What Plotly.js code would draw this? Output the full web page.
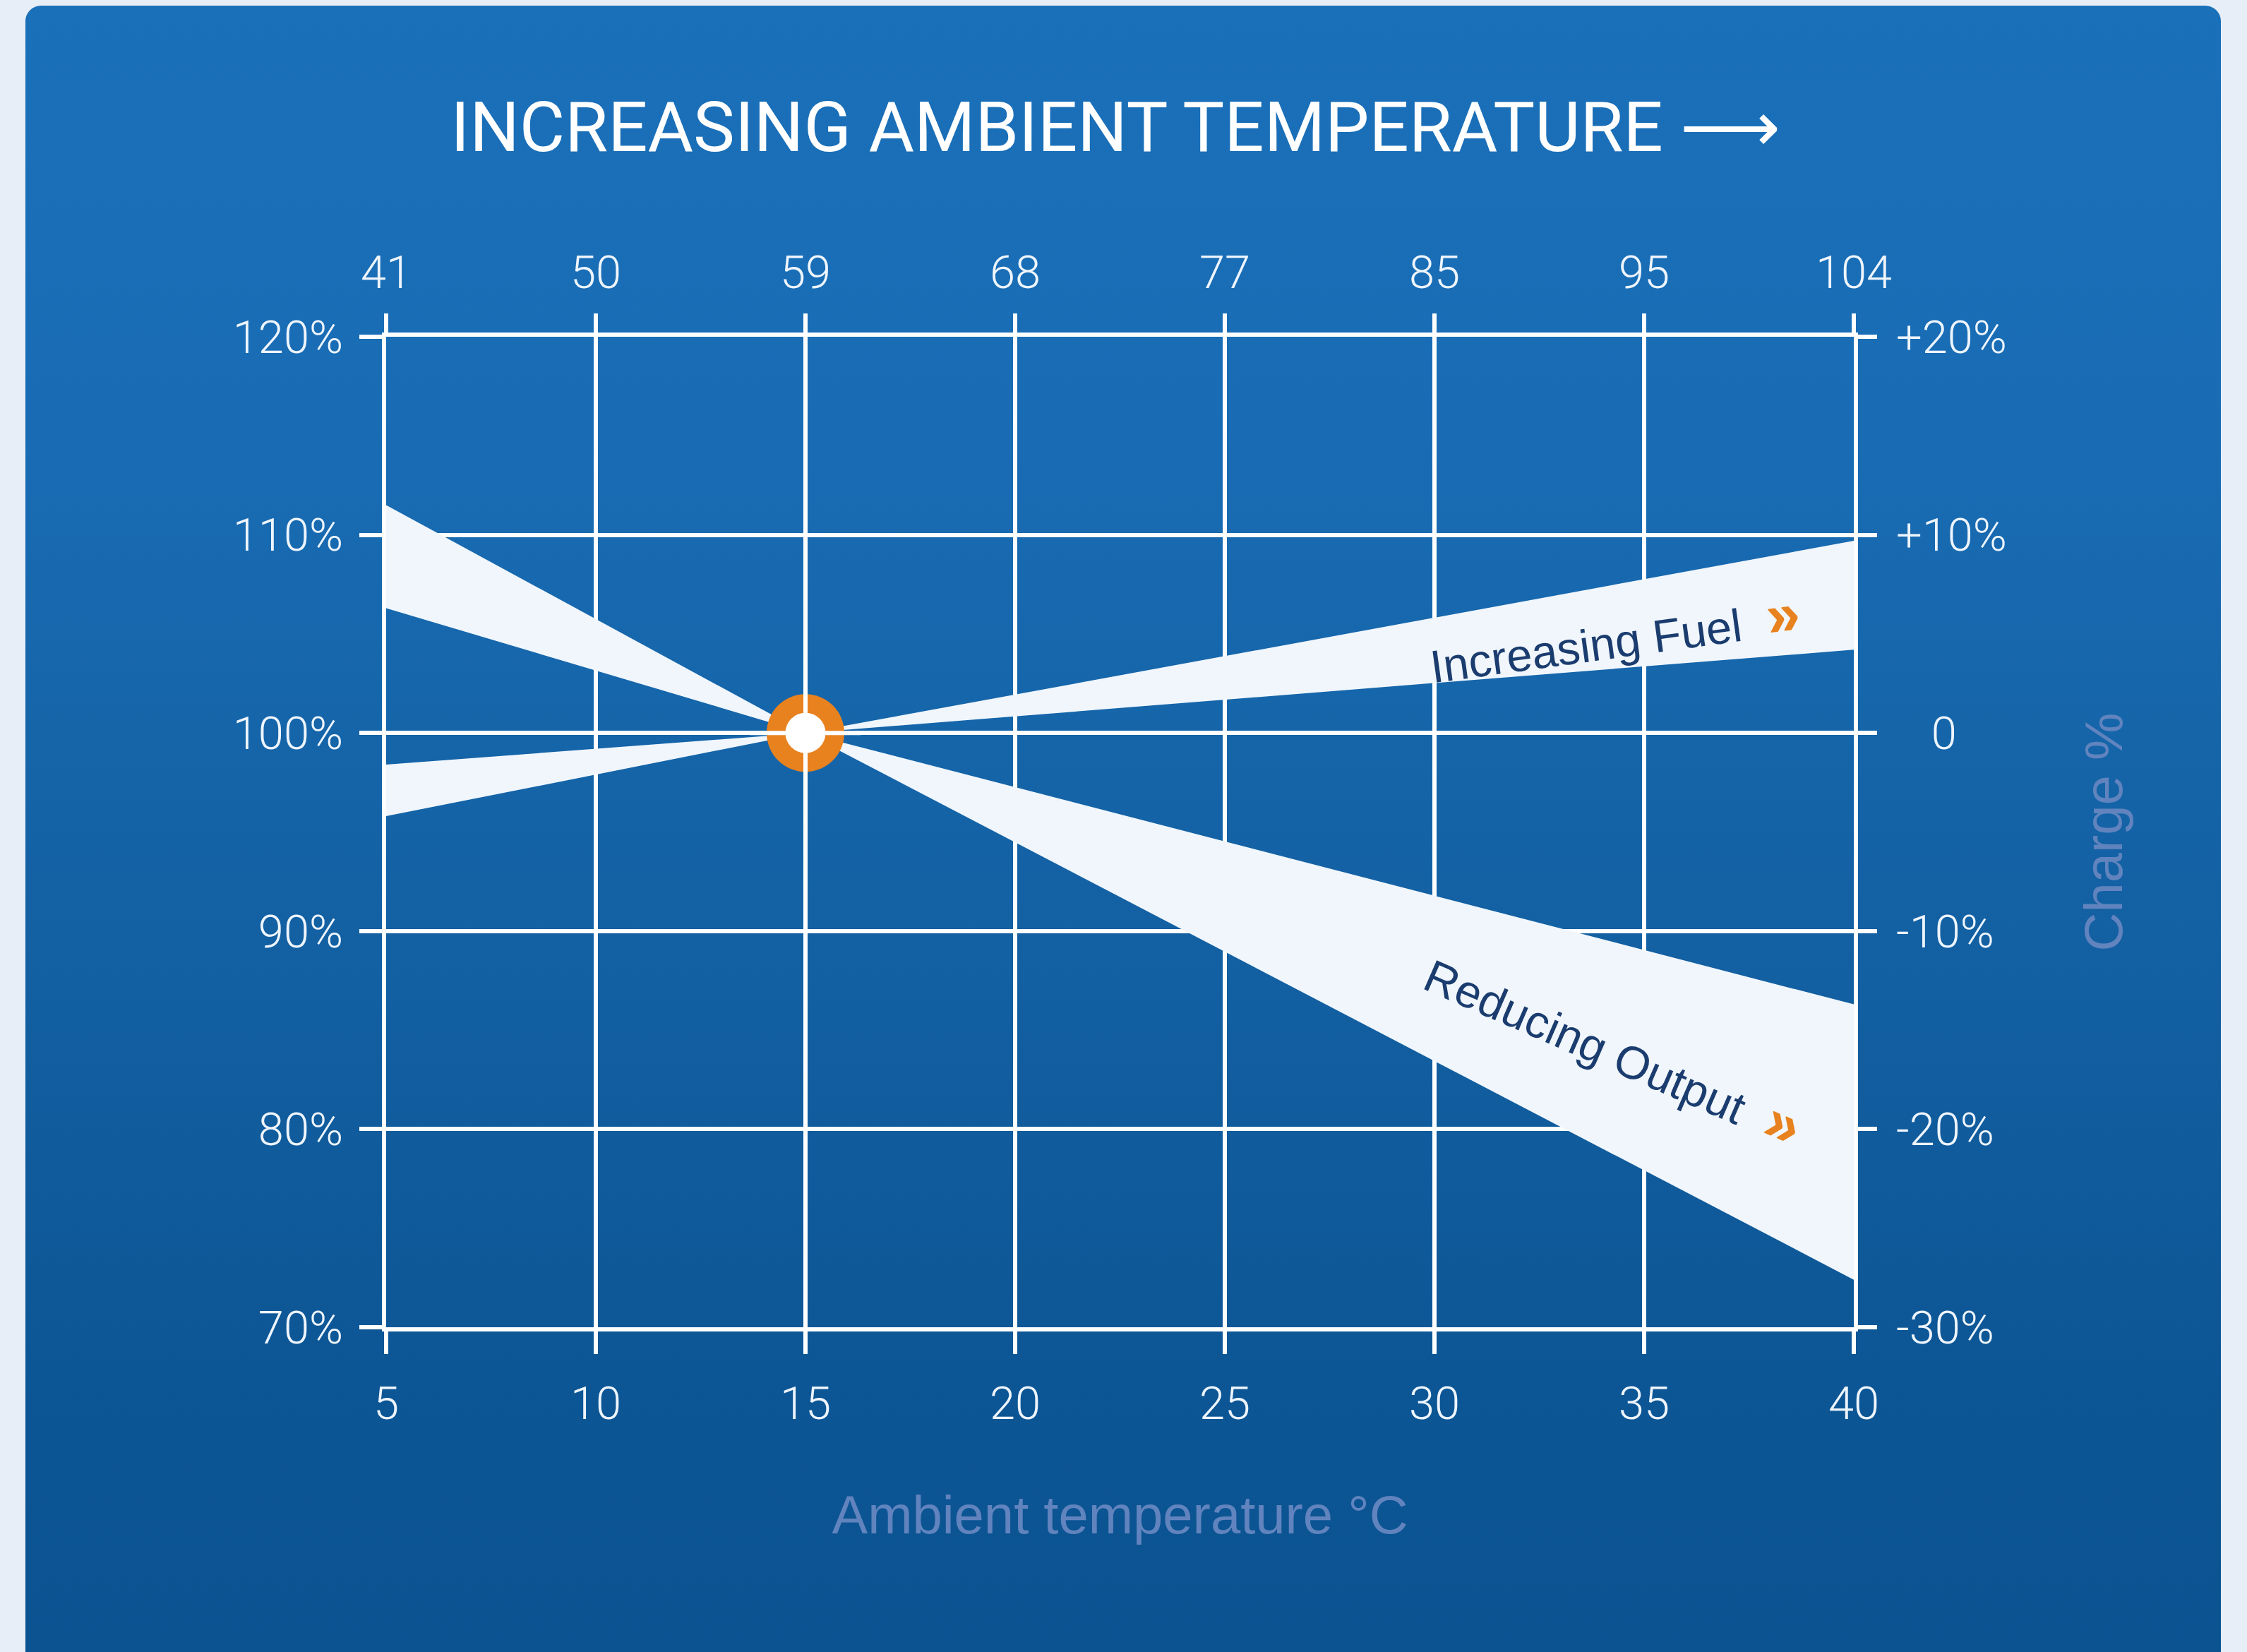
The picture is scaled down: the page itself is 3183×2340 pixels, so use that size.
<!DOCTYPE html>
<html>
<head>
<meta charset="utf-8">
<script src="https://cdn.plot.ly/plotly-3.0.1.min.js"></script>
<style>
  html, body { margin: 0; padding: 0; width: 3183px; height: 2340px; overflow: hidden; background: #e8eef7; }
  #panel { position: absolute; left: 36px; top: 8px; width: 3110px; height: 2420px; border-radius: 22px;
           background: linear-gradient(to bottom, #1a70b9 0%, #196cb4 25%, #1462a5 50%, #0d5695 80%, #0a5290 100%); }
  #chart { position: absolute; left: 0; top: 0; width: 3183px; height: 2340px; }
</style>
</head>
<body>
<div id="panel"></div>
<div id="chart"></div>
<script>
// ---- data ----
const tempC        = [5, 15, 40];                 // ambient temperature, °C
const fuelUpper    = [98.4, 100, 109.7];          // fuel band, upper edge (%)
const fuelLower    = [95.8, 100, 104.2];          // fuel band, lower edge (%)
const outputUpper  = [111.5, 100, 86.3];          // output band, upper edge (%)
const outputLower  = [106.3, 100, 72.4];          // output band, lower edge (%)
const refTemp      = [15];                        // ISO reference point
const refLevel     = [100];

const xTickVals    = [5, 10, 15, 20, 25, 30, 35, 40];
const xTickTextC   = ['5', '10', '15', '20', '25', '30', '35', '40'];
const xTickTextF   = ['41', '50', '59', '68', '77', '85', '95', '104'];
const yTickVals    = [70, 80, 90, 100, 110, 120];
const yTickTextL   = ['70%', '80%', '90%', '100%', '110%', '120%'];
const yTickTextR   = ['-30%', '-20%', '-10%', '\u2007\u20090', '+10%', '+20%'];

const labelTemp    = 34.3;   // where the band captions sit along x

// ---- helpers ----
function interp(xs, ys, x) {
  for (let i = 0; i < xs.length - 1; i++) {
    if (x >= xs[i] && x <= xs[i + 1]) {
      const t = (x - xs[i]) / (xs[i + 1] - xs[i]);
      return ys[i] + t * (ys[i + 1] - ys[i]);
    }
  }
  return ys[ys.length - 1];
}
function bandPolygon(xs, up, lo) {
  return {
    x: xs.concat(xs.slice().reverse()),
    y: up.concat(lo.slice().reverse())
  };
}

const WEDGE = '#f0f6fc';
const ORANGE = '#e8821e';
const NAVY = '#1b3c6e';
const TICKFONT = { family: 'Liberation Sans Narrow, Roboto, sans-serif', size: 65, weight: 300, color: '#eef5fc' };
const AXTITLE = { family: 'Liberation Sans, Arial, sans-serif', size: 76, color: '#6184be' };

const fuelPoly = bandPolygon(tempC, fuelUpper, fuelLower);
const outPoly = bandPolygon(tempC, outputUpper, outputLower);

const traces = [
  { type: 'scatter', mode: 'lines', x: fuelPoly.x, y: fuelPoly.y, fill: 'toself',
    fillcolor: WEDGE, line: { width: 0, color: WEDGE }, hoverinfo: 'skip', name: 'Fuel' },
  { type: 'scatter', mode: 'lines', x: outPoly.x, y: outPoly.y, fill: 'toself',
    fillcolor: WEDGE, line: { width: 0, color: WEDGE }, hoverinfo: 'skip', name: 'Output' },
  { type: 'scatter', mode: 'markers', x: refTemp, y: refLevel,
    marker: { symbol: 'circle', size: 110, color: ORANGE, line: { width: 0 } }, hoverinfo: 'skip' },
  { type: 'scatter', mode: 'markers', x: refTemp, y: refLevel,
    marker: { symbol: 'cross-thin-open', size: 112, color: '#ffffff', line: { width: 6, color: '#ffffff' } }, hoverinfo: 'skip' },
  { type: 'scatter', mode: 'markers', x: refTemp, y: refLevel,
    marker: { symbol: 'circle', size: 57, color: '#ffffff', line: { width: 0 } }, hoverinfo: 'skip' },
  // carrier for the Fahrenheit / change-% axes
  { type: 'scatter', mode: 'markers', x: refTemp, y: refLevel, xaxis: 'x2', yaxis: 'y2',
    marker: { size: 1, opacity: 0 }, hoverinfo: 'skip' }
];

const fuelMid = (interp(tempC, fuelUpper, labelTemp) + interp(tempC, fuelLower, labelTemp)) / 2;
const outMid = (interp(tempC, outputUpper, labelTemp) + interp(tempC, outputLower, labelTemp)) / 2;

const commonAxis = {
  ticks: 'outside', ticklen: 32, tickwidth: 6, tickcolor: '#ffffff',
  showline: false, zeroline: false, tickfont: TICKFONT, fixedrange: true
};

const ARROW = '<span style="color:' + ORANGE + ';font-size:86px;font-weight:bold">»</span>';

const layout = {
  width: 3183, height: 2340,
  margin: { l: 547, r: 557, t: 477, b: 460, pad: 0 },
  paper_bgcolor: 'rgba(0,0,0,0)',
  plot_bgcolor: 'rgba(0,0,0,0)',
  showlegend: false,
  title: {
    text: 'INCREASING AMBIENT TEMPERATURE ⟶',
    font: { family: 'Roboto, sans-serif', size: 99, color: '#ffffff' },
    x: 0.497, xref: 'paper', xanchor: 'center',
    y: 1 - 179 / 2340, yref: 'container', yanchor: 'middle'
  },
  xaxis: Object.assign({}, commonAxis, {
    range: [5, 40], tickmode: 'array', tickvals: xTickVals, ticktext: xTickTextC,
    showgrid: true, gridcolor: '#ffffff', gridwidth: 6,
    showline: true, linecolor: '#ffffff', linewidth: 6, mirror: true,
    ticklabelstandoff: 14,
    title: { text: 'Ambient temperature °C', font: AXTITLE, standoff: 96 }
  }),
  yaxis: Object.assign({}, commonAxis, {
    range: [70, 120], tickmode: 'array', tickvals: yTickVals, ticktext: yTickTextL,
    showgrid: true, gridcolor: '#ffffff', gridwidth: 6,
    showline: true, linecolor: '#ffffff', linewidth: 6, mirror: true,
    ticklabelstandoff: 10
  }),
  xaxis2: Object.assign({}, commonAxis, {
    overlaying: 'x', side: 'top', anchor: 'y2',
    range: [5, 40], tickmode: 'array', tickvals: xTickVals, ticktext: xTickTextF,
    showgrid: false, ticklabelstandoff: 10
  }),
  yaxis2: Object.assign({}, commonAxis, {
    overlaying: 'y', side: 'right', anchor: 'x2',
    range: [70, 120], tickmode: 'array', tickvals: yTickVals, ticktext: yTickTextR,
    showgrid: false, ticklabelstandoff: 14,
    title: { text: 'Charge %', font: AXTITLE, standoff: 110 }
  }),
  annotations: [
    { x: labelTemp, y: fuelMid - 0.5, xref: 'x', yref: 'y', showarrow: false,
      text: 'Increasing Fuel  ' + ARROW,
      textangle: -7.8, xanchor: 'center', yanchor: 'middle',
      font: { family: 'Liberation Sans, Arial, sans-serif', size: 65, color: NAVY } },
    { x: labelTemp, y: outMid, xref: 'x', yref: 'y', showarrow: false,
      text: 'Reducing Output  ' + ARROW,
      textangle: 23.5, xanchor: 'center', yanchor: 'middle',
      font: { family: 'Liberation Sans, Arial, sans-serif', size: 65, color: NAVY } }
  ]
};

Plotly.newPlot('chart', traces, layout, { displayModeBar: false, staticPlot: true });
</script>
</body>
</html>
